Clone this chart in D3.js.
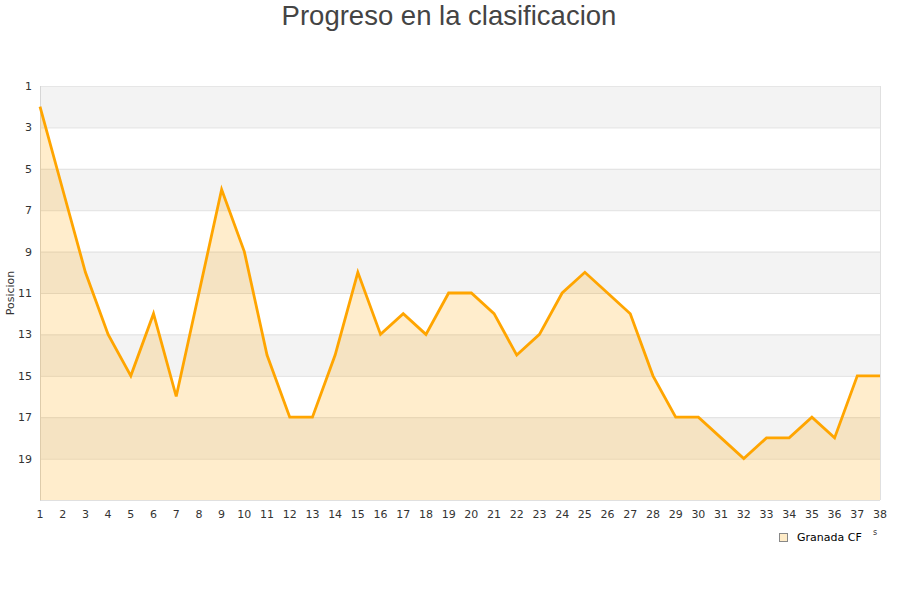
<!DOCTYPE html>
<html><head><meta charset="utf-8">
<script src="https://cdn.jsdelivr.net/npm/d3@7"></script>
<style>body{margin:0;background:#fff}svg{display:block}</style>
</head><body>
<svg id="c" width="900" height="600"></svg>
<script>
const jornadas = d3.range(1, 39);
const posiciones = [2,6,10,13,15,12,16,11,6,9,14,17,17,14,10,13,12,13,11,11,12,14,13,11,10,11,12,15,17,17,18,19,18,18,17,18,15,15];
const yTicks = [1,3,5,7,9,11,13,15,17,19];
const seriesName = "Granada CF";
const titleText = "Progreso en la clasificacion";
const yTitle = "Posicion";

const svg = d3.select("#c");
const L = 40, R = 880, T = 86, B = 500;
const x = d3.scaleLinear().domain([1, 38]).range([L, R]);
const y = d3.scaleLinear().domain([1, 21]).range([T, B]);

const bands = [1,5,9,13,17];
svg.selectAll("rect.band").data(bands).enter().append("rect")
  .attr("x", L).attr("width", R - L)
  .attr("y", d => y(d)).attr("height", d => y(d + 2) - y(d))
  .attr("fill", "#f3f3f3");
svg.selectAll("line.grid").data(yTicks.slice(1).concat([21])).enter().append("line")
  .attr("x1", L).attr("x2", R).attr("y1", d => y(d)+0.5).attr("y2", d => y(d)+0.5)
  .attr("stroke", "#e0e0e0").attr("stroke-width", 1);
svg.append("line").attr("x1", L).attr("x2", R).attr("y1", y(1)+0.5).attr("y2", y(1)+0.5).attr("stroke", "#e6e6e6");
svg.append("line").attr("x1", R+0.5).attr("x2", R+0.5).attr("y1", T).attr("y2", B).attr("stroke", "#e0e0e0");
svg.append("line").attr("x1", L+0.5).attr("x2", L+0.5).attr("y1", T).attr("y2", B+1).attr("stroke", "#d6d6d6");

const data = jornadas.map((j, i) => ({j, p: posiciones[i]}));
svg.append("path").datum(data)
  .attr("d", d3.area().x(d => x(d.j)).y0(y(21)).y1(d => y(d.p)))
  .attr("fill", "rgba(255,165,0,0.2)");
svg.append("path").datum(data)
  .attr("d", d3.line().x(d => x(d.j)).y(d => y(d.p)))
  .attr("fill", "none").attr("stroke", "#ffa500").attr("stroke-width", 2.8).attr("stroke-linejoin", "miter");

const font = "DejaVu Sans, sans-serif";
svg.selectAll("text.xt").data(jornadas).enter().append("text")
  .attr("x", d => x(d)).attr("y", 518).attr("text-anchor", "middle")
  .attr("font-family", font).attr("font-size", 11).attr("fill", "#333").text(d => d);
svg.selectAll("text.yt").data(yTicks).enter().append("text")
  .attr("x", 32).attr("y", d => y(d) + 4).attr("text-anchor", "end")
  .attr("font-family", font).attr("font-size", 11).attr("fill", "#333").text(d => d);

svg.append("text").attr("transform", `translate(14,${(T+B)/2}) rotate(-90)`)
  .attr("text-anchor", "middle").attr("font-family", font).attr("font-size", 11).attr("fill", "#333").text(yTitle);

svg.append("text").attr("x", 449).attr("y", 25).attr("text-anchor", "middle")
  .attr("font-family", "Liberation Sans, Arial, sans-serif").attr("font-size", 27.5).attr("fill", "#444").text(titleText);

svg.append("rect").attr("x", 779.5).attr("y", 533.5).attr("width", 8).attr("height", 8)
  .attr("fill", "#ffecc8").attr("stroke", "#888").attr("stroke-width", 1);
svg.append("text").attr("x", 797).attr("y", 541).attr("font-family", font).attr("font-size", 11).attr("fill", "#000").text(seriesName);
svg.append("text").attr("x", 873).attr("y", 535).attr("font-family", font).attr("font-size", 8).attr("fill", "#333").text("s");
</script>
</body></html>
